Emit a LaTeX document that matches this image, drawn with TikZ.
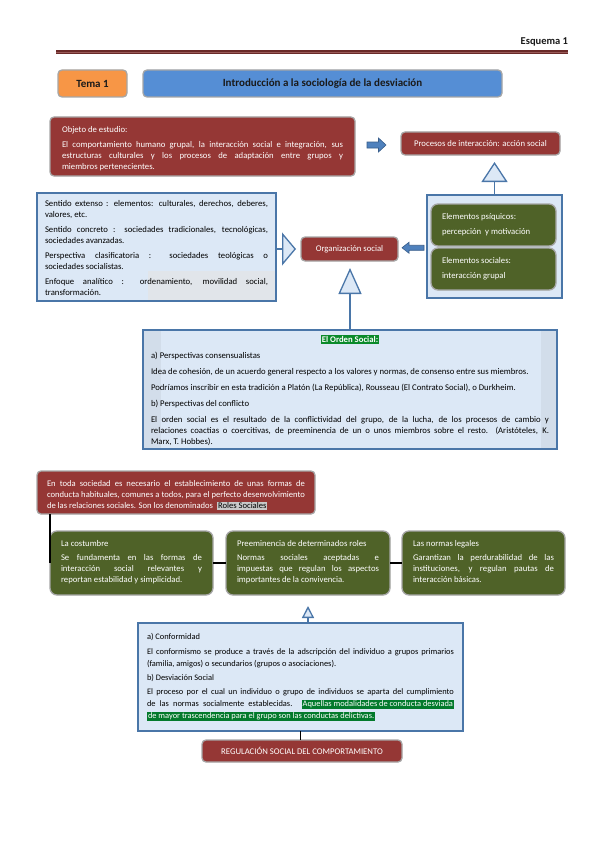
\documentclass[tikz,border=0pt]{standalone}
\usepackage{fontspec}
\setmainfont{Carlito}
\usetikzlibrary{arrows.meta,calc}
\definecolor{dred}{HTML}{953735}
\definecolor{olive}{HTML}{4F6228}
\definecolor{oran}{HTML}{F79646}
\definecolor{tblue}{HTML}{558ED5}
\definecolor{lblue}{HTML}{DCE8F6}
\definecolor{lbluedark}{HTML}{D2DDEA}
\definecolor{lgrayblue}{HTML}{E1E5EA}
\definecolor{bblue}{HTML}{4A76A8}
\definecolor{ablue}{HTML}{4F81BD}
\definecolor{adark}{HTML}{385D8A}
\definecolor{sgray}{HTML}{A6A6A6}
\definecolor{hlgreen}{HTML}{0A8A2A}
\definecolor{hlgreenb}{HTML}{037A2C}
\definecolor{rgray}{HTML}{C9C9C9}
\definecolor{hdr}{HTML}{6A2A28}
\definecolor{hdrlight}{HTML}{9A5A58}
\definecolor{txt}{HTML}{1A1A1A}
\setlength\fboxsep{1pt}
\newcommand\boxtext[4]{\parbox[c][#2][t]{#1}{\vskip#3\relax #4}}
\newcommand\jl[1]{\hbox to\linewidth{\strut#1}}
\newcommand\lft[1]{\hbox to\linewidth{\strut#1\hfil}}
\newcommand\ctr[1]{\hbox to\linewidth{\hfil\strut#1\hfil}}
\newcommand\gap[1]{\vskip#1\relax}
\newcommand\hlg[1]{\colorbox{hlgreenb}{\textcolor{white}{#1}}}
\tikzset{
 every node/.style={inner sep=0pt, outer sep=0pt},
 body/.style={font=\fontsize{8.7}{11}\selectfont},
 head/.style={font=\bfseries\fontsize{11}{13}\selectfont},
 redbox/.style={fill=dred, draw=sgray, line width=1.3pt, rounded corners=4pt, text=white, body},
 greenbox/.style={fill=olive, draw=sgray, line width=1.3pt, rounded corners=7pt, text=white, body},
 bluebox/.style={fill=lblue, draw=bblue, line width=1.3pt, text=black, body},
 tribase/.style={draw=bblue, line width=1.3pt},
 blk/.style={draw=black, line width=1.5pt},
 barrow/.style={fill=ablue, draw=adark, line width=0.6pt},
}
\begin{document}
\begin{tikzpicture}[x=1pt,y=-1pt]
\fill[white] (0,0) rectangle (599,848);
\useasboundingbox (0,0) rectangle (599,848);
% header
\node[anchor=base east, font=\bfseries\fontsize{10.5}{12}\selectfont, text=txt] (esq) at (568,45) {Esquema 1};
\draw[line width=3.2pt, hdr] (56,52) -- (568,52);
\draw[line width=0.7pt, hdrlight] (56,52) -- (568,52);
\node[fill=oran, draw=sgray, line width=1.3pt, rounded corners=4pt, anchor=north west,
  minimum width=69pt, minimum height=27pt, head, text=txt] (tema) at (58,70) {Tema 1};
\node[fill=tblue, draw=sgray, line width=1.3pt, rounded corners=4pt, anchor=north west,
  minimum width=359pt, minimum height=27pt, head, text=txt] (titulo) at (143,70) {Introducción a la sociología de la desviación};
% objeto de estudio
\node[redbox, anchor=north west, inner xsep=12pt] (obj) at (50,117) {\boxtext{281pt}{59pt}{7.8pt}{%
\lft{Objeto de estudio:}\gap{4pt}
\jl{El comportamiento humano grupal, la interacción social e integración, sus}
\jl{estructuras culturales y los procesos de adaptación entre grupos y}
\lft{miembros pertenecientes.}}};
\node[redbox, anchor=north west, minimum width=159pt, minimum height=23pt] (proc) at (401,132) {Procesos de interacción: acción social};
% block arrow obj -> proc
\coordinate (ar1) at ($(obj.east)!0.5!(proc.west)$);
\path[barrow] ($(ar1)+(-11,-3)$) -- ($(ar1)+(0.5,-3)$) -- ($(ar1)+(0.5,-7)$) -- ($(ar1)+(8,0)$)
  -- ($(ar1)+(0.5,7)$) -- ($(ar1)+(0.5,3)$) -- ($(ar1)+(-11,3)$) -- cycle;
% left list box
\node[bluebox, anchor=north west, inner xsep=8pt,
  path picture={\fill[lgrayblue] ($(path picture bounding box.south east)+(0,-30)$) rectangle ($(path picture bounding box.south east)+(-128,0)$);}] (lista) at (37,193) {\boxtext{223pt}{108pt}{5.3pt}{%
\jl{Sentido extenso : elementos: culturales, derechos, deberes,}
\lft{valores, etc.}\gap{4pt}
\jl{Sentido concreto : sociedades tradicionales, tecnológicas,}
\lft{sociedades avanzadas.}\gap{4pt}
\jl{Perspectiva clasificatoria : sociedades teológicas o}
\lft{sociedades socialistas.}\gap{4pt}
\jl{Enfoque analítico : ordenamiento, movilidad social,}
\lft{transformación.}}};
\node[redbox, anchor=north west, minimum width=97pt, minimum height=24pt] (org) at (301,237) {Organización social};
% elementos frame
\node[bluebox, anchor=north west, minimum width=135pt, minimum height=103pt] (elem) at (427,195) {};
\node[greenbox, anchor=north west, inner xsep=11pt] (psi) at (431,204) {\boxtext{103pt}{42pt}{7.8pt}{%
\lft{Elementos psíquicos:}\gap{4pt}
\lft{percepción\ \ y motivación}}};
\node[greenbox, anchor=north west, inner xsep=11pt] (soc) at (431,248) {\boxtext{103pt}{42pt}{7.8pt}{%
\lft{Elementos sociales:}\gap{4pt}
\lft{interacción grupal}}};
% block arrow elem -> org
\coordinate (ar2) at ($(elem.west)!0.5!(org.east)$);
\path[barrow] ($(ar2)+(11.5,-2.5)$) -- ($(ar2)+(-3.5,-2.5)$) -- ($(ar2)+(-3.5,-5.5)$) -- ($(ar2)+(-10.5,0)$)
  -- ($(ar2)+(-3.5,5.5)$) -- ($(ar2)+(-3.5,2.5)$) -- ($(ar2)+(11.5,2.5)$) -- cycle;
% orden social
\node[bluebox, anchor=north west, inner xsep=8pt,
  path picture={\fill[lbluedark] (path picture bounding box.north west) rectangle ($(path picture bounding box.south west)+(18,0)$);
                \fill[lbluedark] (path picture bounding box.north east) rectangle ($(path picture bounding box.south east)+(-16,0)$);}] (orden) at (143,330) {\boxtext{398pt}{119pt}{4.8pt}{%
\ctr{\colorbox{hlgreen}{\textcolor{white}{\bfseries El Orden Social:}}}\gap{5pt}
\lft{a) Perspectivas consensualistas}\gap{5pt}
\lft{Idea de cohesión, de un acuerdo general respecto a los valores y normas, de consenso entre sus miembros.}\gap{5pt}
\lft{Podríamos inscribir en esta tradición a Platón (La República), Rousseau (El Contrato Social), o Durkheim.}\gap{5pt}
\lft{b) Perspectivas del conflicto}\gap{5pt}
\jl{El orden social es el resultado de la conflictividad del grupo, de la lucha, de los procesos de cambio y}
\jl{relaciones coactias o coercitivas, de preeminencia de un o unos miembros sobre el resto.\ \ (Aristóteles, K.}
\lft{Marx, T. Hobbes).}}};
% hollow triangle connectors
\draw[tribase, -{Triangle[length=20pt, width=26pt, fill=lblue]}, shorten >=7pt] (elem.north) -- (elem.north |- proc.south);
\draw[tribase, -{Triangle[length=14pt, width=33pt, fill=lblue]}, shorten >=5pt] (lista.east |- org.west) -- (org.west);
\draw[tribase, -{Triangle[length=26pt, width=23pt, fill=lblue]}, shorten >=7pt] (orden.north) -- (orden.north |- org.south);
% roles sociales
\node[redbox, anchor=north west, inner xsep=10pt, font=\fontsize{8.6}{11}\selectfont] (roles) at (37,471) {\boxtext{258pt}{43pt}{7.8pt}{%
\jl{En toda sociedad es necesario el establecimiento de unas formas de}
\jl{conducta habituales, comunes a todos, para el perfecto desenvolvimiento}
\lft{de las relaciones sociales. Son los denominados\ \ \colorbox{rgray}{\textcolor{black}{Roles Sociales}}}}};
% three green boxes
\node[greenbox, anchor=north west, inner xsep=11pt] (cost) at (50,531) {\boxtext{141pt}{64pt}{7.8pt}{%
\lft{La costumbre}\gap{3pt}
\jl{Se fundamenta en las formas de}
\jl{interacción social relevantes y}
\lft{reportan estabilidad y simplicidad.}}};
\node[greenbox, anchor=north west, inner xsep=11pt] (preem) at (226,531) {\boxtext{142pt}{64pt}{7.8pt}{%
\lft{Preeminencia de determinados roles}\gap{3pt}
\jl{Normas sociales aceptadas e}
\jl{impuestas que regulan los aspectos}
\lft{importantes de la convivencia.}}};
\node[greenbox, anchor=north west, inner xsep=11pt] (norm) at (402,531) {\boxtext{141pt}{64pt}{7.8pt}{%
\lft{Las normas legales}\gap{3pt}
\jl{Garantizan la perdurabilidad de las}
\jl{instituciones, y regulan pautas de}
\lft{interacción básicas.}}};
\draw[blk] (roles.south -| cost.west) -- (cost.west);
\draw[blk] (cost.east) -- (preem.west);
\draw[blk] (preem.east) -- (norm.west);
% bottom box
\node[bluebox, anchor=north west, inner xsep=9pt, font=\fontsize{8.4}{12}\selectfont] (conf) at (138,623) {\boxtext{307pt}{108pt}{8.3pt}{%
\lft{a) Conformidad}\gap{2.3pt}
\jl{El conformismo se produce a través de la adscripción del individuo a grupos primarios}
\lft{(familia, amigos) o secundarios (grupos o asociaciones).}\gap{2.3pt}
\lft{b) Desviación Social}\gap{2.3pt}
\jl{El proceso por el cual un individuo o grupo de individuos se aparta del cumplimiento}
\jl{de las normas socialmente establecidas. \hlg{Aquellas modalidades de conducta desviada}}
\lft{\hlg{de mayor trascendencia para el grupo son las conductas delictivas.}}}};
\draw[tribase, -{Triangle[length=12pt, width=12pt, fill=lblue]}, shorten >=11pt] (conf.north -| preem.south) -- (preem.south);
\node[redbox, anchor=north west, minimum width=200pt, minimum height=22pt] (reg) at (202,740) {REGULACIÓN SOCIAL DEL COMPORTAMIENTO};
\draw[blk] (conf.south) -- (conf.south |- reg.north);
\end{tikzpicture}
\end{document}
